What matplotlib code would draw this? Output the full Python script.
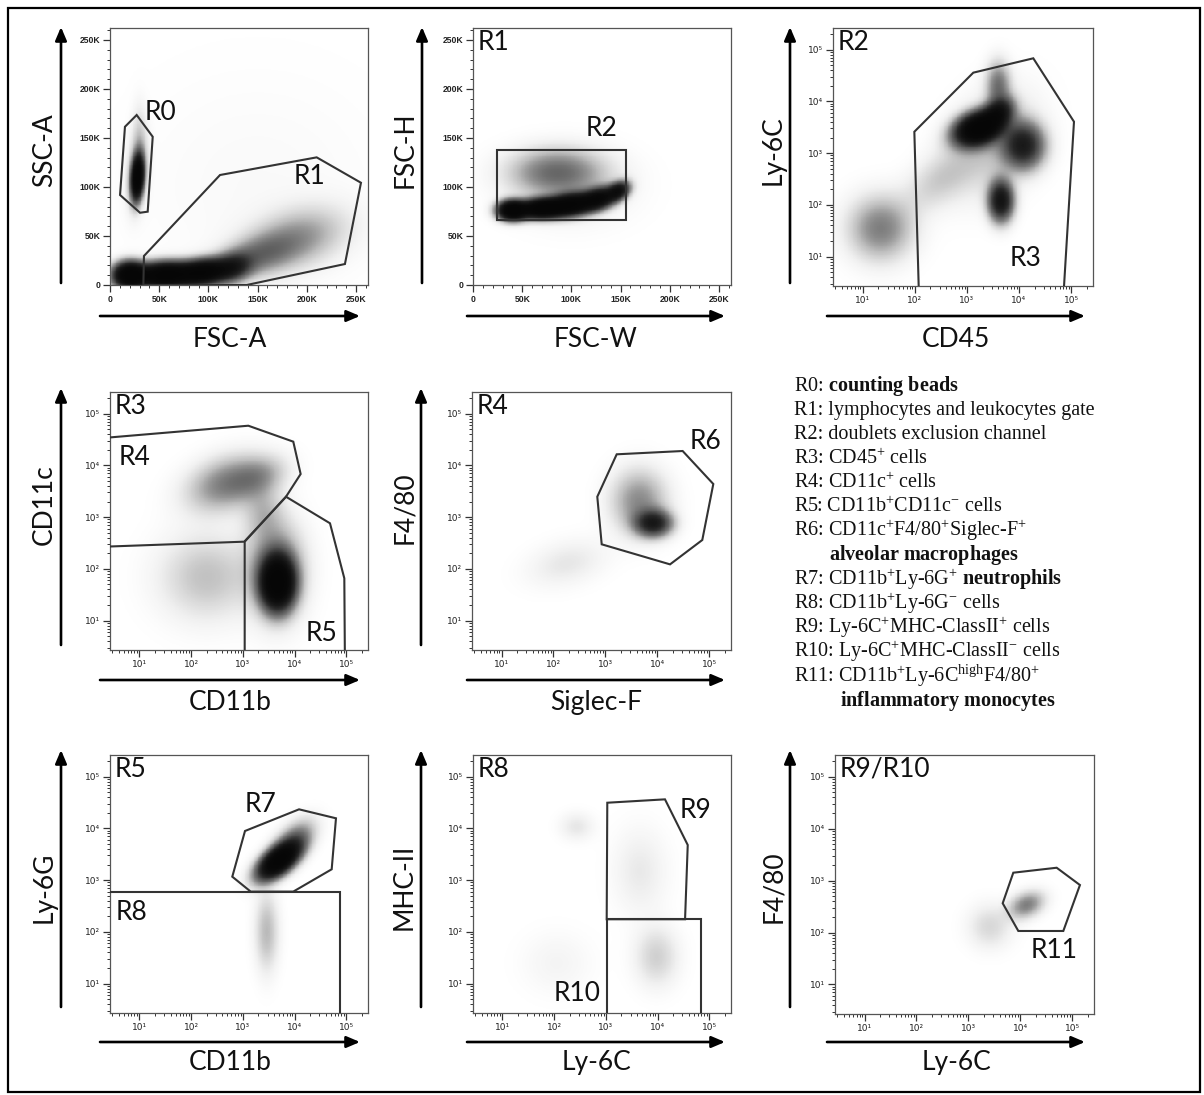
import numpy as np
import matplotlib
matplotlib.use("Agg")
import matplotlib.pyplot as plt
from matplotlib.patches import Polygon, Rectangle, FancyArrowPatch
from matplotlib.ticker import FixedLocator, FuncFormatter, NullFormatter

plt.rcParams['mathtext.fontset'] = 'dejavusans'
plt.rcParams['mathtext.rm'] = 'Liberation Serif'
plt.rcParams['mathtext.bf'] = 'Liberation Serif:bold'
plt.rcParams['mathtext.it'] = 'Liberation Serif:italic'

W, H = 1204, 1095
LOG_LO, LOG_HI = 0.43, 5.42
LIN_HI = 262.144  # thousands

SANS = ['Lato', 'DejaVu Sans']

# ---------------- data: cell clusters (centre x, centre y, spread x, spread y, corr, weight) -------------
# linear panels in K units, spreads in K ; log panels: centres in data units, spreads in decades
p1_cx = [28, 27, 20, 55, 95, 125, 150, 190, 30, 150]
p1_cy = [110, 115, 10, 10, 13, 18, 30, 48, 150, 100]
p1_sx = [4, 7, 10, 18, 16, 12, 25, 32, 5, 90]
p1_sy = [14, 25, 8, 8, 8, 9, 14, 20, 22, 80]
p1_rho = [0.2, 0.2, 0.0, 0.1, 0.2, 0.2, 0.4, 0.3, 0.0, 0.0]
p1_w = [6, 0.4, 6, 6, 5, 2, 0.9, 0.7, 0.3, 0.05]

p2_cx = [40, 70, 100, 128, 148, 85, 100]
p2_cy = [76, 78, 82, 88, 96, 115, 100]
p2_sx = [9, 14, 14, 11, 7, 30, 40]
p2_sy = [6, 6, 7, 7, 6, 15, 25]
p2_rho = [0.0, 0.1, 0.2, 0.3, 0.3, 0.0, 0.0]
p2_w = [6, 6, 5, 4, 3, 1.0, 0.2]

p3_cx = [1700, 4000, 4000, 12000, 4500, 22, 300, 3000]
p3_cy = [3000, 6000, 20000, 1400, 120, 35, 300, 1500]
p3_sx = [0.28, 0.18, 0.15, 0.25, 0.15, 0.4, 0.45, 0.55]
p3_sy = [0.2, 0.18, 0.3, 0.28, 0.25, 0.4, 0.4, 0.65]
p3_rho = [0.3, 0.3, 0.0, 0.0, 0.0, 0.0, 0.5, 0.3]
p3_w = [6, 2.5, 1.0, 2.5, 3, 0.9, 0.35, 0.4]

p4_cx = [4700, 4500, 500, 2000, 200, 2500]
p4_cy = [55, 100, 4500, 6000, 70, 1200]
p4_sx = [0.2, 0.35, 0.5, 0.35, 0.6, 0.25]
p4_sy = [0.32, 0.6, 0.35, 0.25, 0.55, 0.35]
p4_rho = [0.0, 0.0, 0.3, 0.3, 0.0, 0.0]
p4_w = [6, 0.9, 0.9, 0.5, 0.45, 0.4]

p5_cx = [8400, 4500, 180]
p5_cy = [760, 2000, 128]
p5_sx = [0.22, 0.35, 0.5]
p5_sy = [0.16, 0.4, 0.3]
p5_rho = [0.0, 0.0, 0.3]
p5_w = [2.5, 0.8, 0.2]

p7_cx = [5000, 10000, 2900]
p7_cy = [2400, 6000, 100]
p7_sx = [0.25, 0.25, 0.15]
p7_sy = [0.22, 0.25, 0.5]
p7_rho = [0.6, 0.5, 0.0]
p7_w = [6, 1.0, 0.5]

p8_cx = [273, 4570, 9600, 112]
p8_cy = [10800, 1500, 33, 25]
p8_sx = [0.22, 0.35, 0.28, 0.45]
p8_sy = [0.18, 0.55, 0.38, 0.4]
p8_rho = [0.0, 0.0, 0.0, 0.0]
p8_w = [0.2, 0.18, 0.35, 0.1]

p9_cx = [13300, 2600]
p9_cy = [340, 130]
p9_sx = [0.22, 0.28]
p9_sy = [0.17, 0.28]
p9_rho = [0.3, 0.0]
p9_w = [0.9, 0.3]

# ---------------- data: gates ----------------
r0_x = [15.2, 27.1, 43.4, 38.3, 30.5, 10.2]
r0_y = [161.4, 173.4, 151.2, 74.8, 73.7, 91.8]
r1_x = [33.9, 34.5, 111.8, 210.0, 255.0, 238.7, 138.9]
r1_y = [0.0, 29.6, 112.2, 130.2, 104.3, 21.4, 0.0]
r2_x = [24.7, 155.1, 155.1, 24.7]
r2_y = [66.3, 66.3, 137.7, 137.7]
r3_x = [122, 98, 1327, 18800, 113500, 68900]
r3_y = [1.0, 2590, 36000, 68200, 4050, 1.0]
r4_x = [1.0, 1274, 9440, 13100, 6820, 1065, 1.0]
r4_y = [32000, 58600, 28800, 6820, 2480, 335, 261]
r5_x = [1084, 1084, 6820, 48400, 91600, 94400]
r5_y = [1.0, 335, 2480, 760, 65.6, 1.0]
r6_x = [1651, 30800, 120000, 73600, 17600, 849, 698]
r6_y = [16400, 19000, 4370, 361, 122, 298, 2480]
r7_x = [1099, 12200, 63200, 52200, 9440, 1416, 624]
r7_y = [8920, 23400, 15700, 1620, 600, 600, 1165]
r8_x = [1.0, 75500, 75500, 1.0]
r8_y = [600, 600, 1.0, 1.0]
r9_x = [1065, 13900, 38300, 34000, 1037]
r9_y = [31400, 36500, 4780, 175, 175]
r10_x = [1037, 68200, 68200, 1037]
r10_y = [175, 175, 1.0, 1.0]
r11_x = [4580, 7330, 50200, 141000, 67400, 9160]
r11_y = [366, 1420, 1770, 822, 107, 107]

legend_lines = [
    "R0: $\\mathbf{counting\\ beads}$",
    "R1: lymphocytes and leukocytes gate",
    "R2: doublets exclusion channel",
    "R3: CD45$^{+}$ cells",
    "R4: CD11c$^{+}$ cells",
    "R5: CD11b$^{+}$CD11c$^{-}$ cells",
    "R6: CD11c$^{+}$F4/80$^{+}$Siglec-F$^{+}$",
    "$\\mathbf{alveolar\\ macrophages}$",
    "R7: CD11b$^{+}$Ly-6G$^{+}$ $\\mathbf{neutrophils}$",
    "R8: CD11b$^{+}$Ly-6G$^{-}$ cells",
    "R9: Ly-6C$^{+}$MHC-ClassII$^{+}$ cells",
    "R10: Ly-6C$^{+}$MHC-ClassII$^{-}$ cells",
    "R11: CD11b$^{+}$Ly-6C$^{\\mathrm{high}}$F4/80$^{+}$",
    "$\\mathbf{inflammatory\\ monocytes}$",
]
legend_indent = [0, 0, 0, 0, 0, 0, 0, 35, 0, 0, 0, 0, 0, 46]

lin_ticks = [0, 50, 100, 150, 200, 250]
lin_labels = ['0', '50K', '100K', '150K', '200K', '250K']
log_ticks = [1e1, 1e2, 1e3, 1e4, 1e5]
log_labels = ['10\u00b9', '10\u00b2', '10\u00b3', '10\u2074', '10\u2075']

panels = [
    dict(box=(110, 368, 28, 285), log=False, xl='FSC-A', yl='SSC-A', parent=None,
         cl=(p1_cx, p1_cy, p1_sx, p1_sy, p1_rho, p1_w),
         gates=[(r0_x, r0_y), (r1_x, r1_y)],
         glabels=[('R0', 35.6, 176), ('R1', 187, 110.5)],
         varrow=(61, 283, 27), harrow=(316, 100, 360), ylx=52, yly=150, xly=347),
    dict(box=(473, 731, 28, 285), log=False, xl='FSC-W', yl='FSC-H', parent='R1',
         cl=(p2_cx, p2_cy, p2_sx, p2_sy, p2_rho, p2_w),
         gates=[(r2_x, r2_y)],
         glabels=[('R2', 114.8, 160)],
         varrow=(422, 283, 27), harrow=(316, 467, 725), ylx=413, yly=150, xly=347),
    dict(box=(833, 1093, 28, 286), log=True, xl='CD45', yl='Ly-6C', parent='R2',
         cl=(p3_cx, p3_cy, p3_sx, p3_sy, p3_rho, p3_w),
         gates=[(r3_x, r3_y)],
         glabels=[('R3', 6710, 9.2)],
         varrow=(790, 283, 27), harrow=(316, 827, 1085), ylx=781, yly=150, xly=347),
    dict(box=(110, 368, 392, 650), log=True, xl='CD11b', yl='CD11c', parent='R3',
         cl=(p4_cx, p4_cy, p4_sx, p4_sy, p4_rho, p4_w),
         gates=[(r4_x, r4_y), (r5_x, r5_y)],
         glabels=[('R4', 4.0, 14100), ('R5', 16600, 5.7)],
         varrow=(61, 645, 388), harrow=(680, 100, 360), ylx=52, yly=505, xly=710),
    dict(box=(472, 731, 392, 650), log=True, xl='Siglec-F', yl='F4/80', parent='R4',
         cl=(p5_cx, p5_cy, p5_sx, p5_sy, p5_rho, p5_w),
         gates=[(r6_x, r6_y)],
         glabels=[('R6', 42600, 28800)],
         varrow=(421, 645, 388), harrow=(680, 467, 725), ylx=412, yly=508, xly=710),
    dict(box=(110, 368, 755, 1013), log=True, xl='CD11b', yl='Ly-6G', parent='R5',
         cl=(p7_cx, p7_cy, p7_sx, p7_sy, p7_rho, p7_w),
         gates=[(r7_x, r7_y), (r8_x, r8_y)],
         glabels=[('R7', 1100, 28400), ('R8', 3.4, 234)],
         varrow=(61, 1007, 750), harrow=(1042, 100, 360), ylx=52, yly=887, xly=1070),
    dict(box=(473, 731, 755, 1013), log=True, xl='Ly-6C', yl='MHC-II', parent='R8',
         cl=(p8_cx, p8_cy, p8_sx, p8_sy, p8_rho, p8_w),
         gates=[(r9_x, r9_y), (r10_x, r10_y)],
         glabels=[('R9', 27200, 22700), ('R10', 99, 6.5)],
         varrow=(421, 1007, 750), harrow=(1042, 467, 725), ylx=412, yly=887, xly=1070),
    dict(box=(835, 1094, 755, 1014), log=True, xl='Ly-6C', yl='F4/80', parent='R9/R10',
         cl=(p9_cx, p9_cy, p9_sx, p9_sy, p9_rho, p9_w),
         gates=[(r11_x, r11_y)],
         glabels=[('R11', 15800, 46)],
         varrow=(790, 1007, 750), harrow=(1042, 827, 1085), ylx=781, yly=887, xly=1070),
]


def draw_density(ax, cl, log):
    cx, cy, sx, sy, rho, w = [np.asarray(a, float) for a in cl]
    n = 320
    if log:
        ue = np.linspace(LOG_LO, LOG_HI, n + 1)
        xe = 10 ** ue
        mx, my = np.log10(cx), np.log10(cy)
    else:
        ue = np.linspace(0, LIN_HI, n + 1)
        xe = ue
        mx, my = cx, cy
    uc = 0.5 * (ue[:-1] + ue[1:])
    U, V = np.meshgrid(uc, uc)
    D = np.zeros_like(U)
    for i in range(len(cx)):
        dx = (U - mx[i]) / sx[i]
        dy = (V - my[i]) / sy[i]
        r = rho[i]
        q = (dx * dx - 2 * r * dx * dy + dy * dy) / (1 - r * r)
        D += w[i] * np.exp(-0.5 * q)
    dark = 1 - np.exp(-D)
    ax.pcolormesh(xe, xe, dark, cmap='Greys', vmin=0, vmax=1.02, shading='flat', zorder=1)


fig = plt.figure(figsize=(W / 100, H / 100), dpi=100)

for p in panels:
    L, R, T, B = p['box']
    ax = fig.add_axes([L / W, 1 - B / H, (R - L) / W, (B - T) / H])
    if p['log']:
        ax.set_xscale('log')
        ax.set_yscale('log')
        ax.set_xlim(10 ** LOG_LO, 10 ** LOG_HI)
        ax.set_ylim(10 ** LOG_LO, 10 ** LOG_HI)
        minors = [k * 10 ** d for d in range(0, 6) for k in range(2, 10)
                  if 10 ** LOG_LO <= k * 10 ** d <= 10 ** LOG_HI]
        for axis in (ax.xaxis, ax.yaxis):
            axis.set_major_locator(FixedLocator(log_ticks))
            axis.set_major_formatter(FuncFormatter(lambda v, pos: log_labels[pos] if pos is not None and pos < 5 else ''))
            axis.set_minor_locator(FixedLocator(minors))
            axis.set_minor_formatter(NullFormatter())
        tfont = dict(family=['DejaVu Sans'], size=6.5)
    else:
        ax.set_xlim(0, LIN_HI)
        ax.set_ylim(0, LIN_HI)
        minors = [v for v in range(0, 263, 10) if v % 50]
        for axis in (ax.xaxis, ax.yaxis):
            axis.set_major_locator(FixedLocator(lin_ticks))
            axis.set_major_formatter(FuncFormatter(lambda v, pos: lin_labels[pos] if pos is not None and pos < 6 else ''))
            axis.set_minor_locator(FixedLocator(minors))
            axis.set_minor_formatter(NullFormatter())
        tfont = dict(family=['Liberation Sans'], size=6.2, weight='bold')
    ax.tick_params(which='major', direction='out', length=5, width=0.9, pad=2, colors='#333333')
    ax.tick_params(which='minor', direction='out', length=2.5, width=0.7, colors='#333333')
    for lab in ax.get_xticklabels() + ax.get_yticklabels():
        lab.set_fontfamily(tfont['family'])
        lab.set_fontsize(tfont['size'])
        lab.set_fontweight(tfont.get('weight', 'normal'))
        lab.set_color('#222222')
    for s in ax.spines.values():
        s.set_color('#555555')
        s.set_linewidth(0.9)

    draw_density(ax, p['cl'], p['log'])

    for gx, gy in p['gates']:
        ax.add_patch(Polygon(np.column_stack([gx, gy]), closed=True, fill=False,
                             edgecolor='#333333', linewidth=1.5, zorder=3))
    for txt, x, y in p['glabels']:
        ax.text(x, y, txt, fontsize=19, family=SANS, ha='left', va='center', color='#111111', zorder=4)
    if p['parent']:
        ax.text(0.016, 0.945, p['parent'], transform=ax.transAxes, fontsize=19, family=SANS,
                ha='left', va='center', color='#111111', zorder=4)
    p['ax'] = ax

# overlay in pixel coordinates for arrows, axis titles and legend text
ov = fig.add_axes([0, 0, 1, 1])
ov.set_xlim(0, W)
ov.set_ylim(H, 0)
ov.axis('off')

for p in panels:
    vx, vy0, vy1 = p['varrow']
    hy, hx0, hx1 = p['harrow']
    for a, b in (((vx, vy0), (vx, vy1)), ((hx0, hy), (hx1, hy))):
        ov.add_patch(FancyArrowPatch(a, b, arrowstyle='-|>,head_length=0.8,head_width=0.34',
                                     mutation_scale=10, lw=1.9, color='black',
                                     shrinkA=0, shrinkB=0))
    L, R, T, B = p['box']
    ov.text(p['ylx'], p['yly'], p['yl'], rotation=90, rotation_mode='anchor', ha='center',
            va='baseline', fontsize=19, family=SANS, color='#111111')
    ov.text((hx0 + hx1) / 2, p['xly'], p['xl'], ha='center', va='baseline', fontsize=19,
            family=SANS, color='#111111')

base0, step = 391, 24.2
for i, line in enumerate(legend_lines):
    t = ov.text(794 + legend_indent[i], base0 + i * step, line, ha='left', va='baseline',
                fontsize=14.5, family=['Liberation Serif'], color='#111111')
    t.set_math_fontfamily('custom')

ov.add_patch(Rectangle((8, 8), 1192, 1084, fill=False, edgecolor='black', lw=1.6))

fig.savefig('out.png', dpi=100)
